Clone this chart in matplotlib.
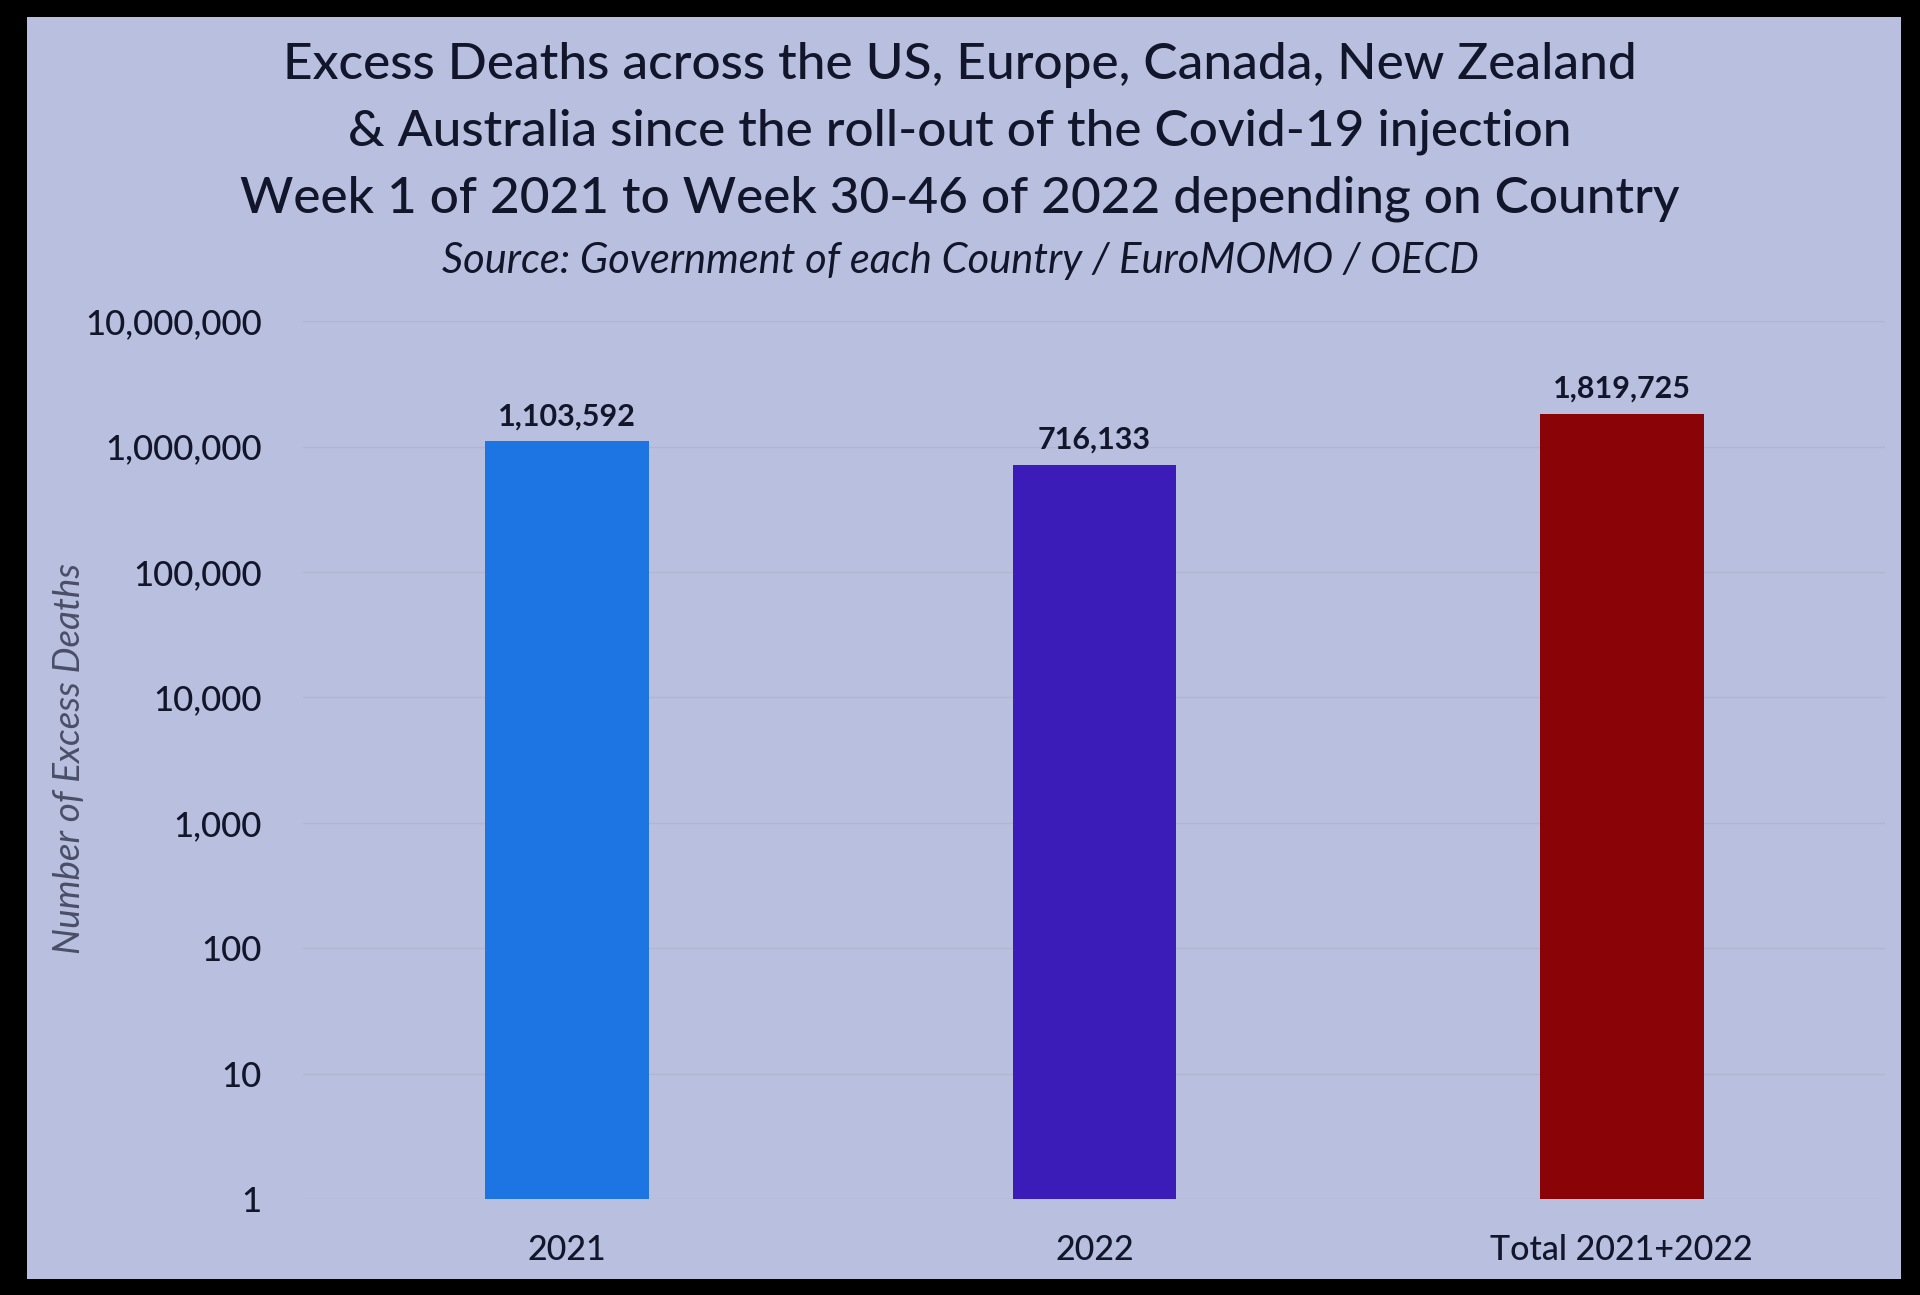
import numpy as np
import matplotlib
matplotlib.use('Agg')
import matplotlib.pyplot as plt
import matplotlib.ticker as ticker
from matplotlib.patches import Rectangle

categories = ['2021', '2022', 'Total 2021+2022']
excess_deaths = [1103592, 716133, 1819725]
bar_colors = ['#1d74e3', '#3b1cb8', '#8a0306']
y_ticks = [1, 10, 100, 1000, 10000, 100000, 1000000, 10000000]

title_lines = ['Excess Deaths across the US, Europe, Canada, New Zealand',
               '& Australia since the roll-out of the Covid-19 injection',
               'Week 1 of 2021 to Week 30-46 of 2022 depending on Country']
subtitle = 'Source: Government of each Country / EuroMOMO / OECD'

plt.rcParams['font.family'] = ['Lato', 'DejaVu Sans']
text_color = '#12162a'
screen_color = '#b9bfde'

fig = plt.figure(figsize=(19.2, 12.95), dpi=100, facecolor='black')

# the screen of the photographed monitor
fig.patches.append(Rectangle((0.014, 0.012), 0.976, 0.975, transform=fig.transFigure,
                             facecolor=screen_color, edgecolor='none', zorder=-5))

ax = fig.add_axes([0.158, 0.074, 0.824, 0.678])
ax.set_facecolor('none')
ax.set_zorder(2)

x = np.arange(len(categories))
ax.bar(x, excess_deaths, width=0.31, color=bar_colors, bottom=1, zorder=3)
ax.set_yscale('log')
ax.set_ylim(1, 1e7)
ax.set_xlim(-0.5, len(categories) - 0.5)

ax.yaxis.set_major_locator(ticker.FixedLocator(y_ticks))
ax.yaxis.set_minor_locator(ticker.NullLocator())
ax.yaxis.set_major_formatter(ticker.FuncFormatter(lambda v, p: f'{int(v):,}'))
ax.set_xticks(x)
ax.set_xticklabels(categories)

ax.tick_params(axis='y', length=0, pad=30, labelsize=25, labelcolor=text_color)
ax.tick_params(axis='x', length=0, pad=25, labelsize=24.5, labelcolor=text_color)
for lbl in ax.get_xticklabels() + ax.get_yticklabels():
    lbl.set_fontweight('medium')

for s in ax.spines.values():
    s.set_visible(False)
ax.grid(True, axis='y', color='#b0b6d2', linewidth=1.0, zorder=0)

for xi, v in zip(x, excess_deaths):
    ax.annotate(f'{v:,}', (xi, v), xytext=(0, 8), textcoords='offset points',
                ha='center', va='bottom', fontsize=22, fontweight='bold', color=text_color)

fig.text(0.036, 0.414, 'Number of Excess Deaths', rotation=90, ha='center', va='center',
         fontsize=26.5, style='italic', color='#4a4f68')

for i, line in enumerate(title_lines):
    fig.text(0.5, 1 - (65 + 67 * i) / 1295, line, ha='center', va='center',
             fontsize=37, fontweight='medium', color=text_color)
fig.text(0.5, 1 - 261 / 1295, subtitle, ha='center', va='center',
         fontsize=30, style='italic', color=text_color)

fig.savefig('out.png', dpi=100, facecolor=fig.get_facecolor())
